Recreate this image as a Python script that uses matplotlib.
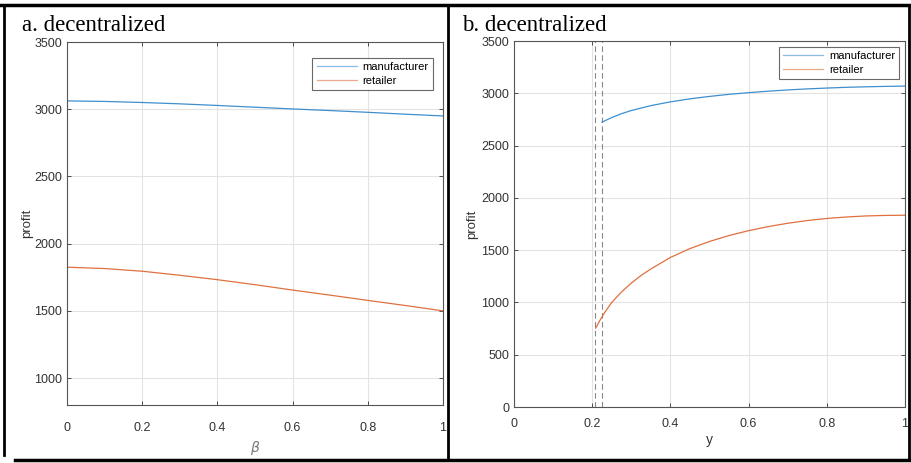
import matplotlib
matplotlib.use("Agg")
import matplotlib.pyplot as plt
from matplotlib.lines import Line2D

# panel a: profit vs beta
beta = [0.0, 0.1, 0.2, 0.3, 0.4, 0.5, 0.6, 0.7, 0.8, 0.9, 1.0]
manu_a = [3062, 3058, 3050, 3040, 3028, 3015, 3002, 2990, 2977, 2963, 2950]
ret_a = [1825, 1815, 1795, 1765, 1732, 1695, 1655, 1617, 1578, 1540, 1500]

# panel b: profit vs y
y_manu = [0.225, 0.25, 0.275, 0.3, 0.35, 0.4, 0.45, 0.5, 0.55, 0.6, 0.65, 0.7,
          0.75, 0.8, 0.85, 0.9, 0.95, 1.0]
manu_b = [2724, 2768, 2805, 2835, 2882, 2918, 2947, 2970, 2990, 3006, 3020, 3032,
          3042, 3050, 3057, 3062, 3066, 3069]
y_ret = [0.209, 0.22, 0.23, 0.25, 0.275, 0.3, 0.325, 0.35, 0.4, 0.45, 0.5, 0.55,
         0.6, 0.65, 0.7, 0.75, 0.8, 0.85, 0.9, 0.95, 1.0]
ret_b = [754, 830, 893, 1000, 1100, 1185, 1258, 1320, 1430, 1515, 1583, 1640,
         1686, 1725, 1757, 1783, 1803, 1817, 1827, 1832, 1834]
dash_x = [0.208, 0.225]

blue = "#3d8fd0"
orange = "#e0703f"
tickfont = ["Liberation Sans", "DejaVu Sans"]
serif = ["Liberation Serif", "DejaVu Serif"]

fig = plt.figure(figsize=(9.11, 4.63), dpi=100)
W, H = 911.0, 463.0


def box(l, t, r, b):
    return [l / W, 1 - b / H, (r - l) / W, (b - t) / H]


def style(ax):
    for s in ax.spines.values():
        s.set_color("#555555")
        s.set_linewidth(0.8)
    ax.grid(True, color="#e3e3e3", linewidth=0.8)
    ax.set_axisbelow(True)
    ax.tick_params(direction="in", length=3, width=0.6, color="#333333",
                   top=True, right=True, labelsize=9, labelcolor="#333333")
    for lab in ax.get_xticklabels() + ax.get_yticklabels():
        lab.set_family(tickfont)
    ax.set_xlim(0, 1)
    ax.set_xticks([0, 0.2, 0.4, 0.6, 0.8, 1.0])
    ax.set_xticklabels(["0", "0.2", "0.4", "0.6", "0.8", "1"])
    ax.tick_params(axis="x", pad=12)


def legend(ax, anchor):
    leg = ax.legend(loc="upper right", bbox_to_anchor=anchor,
                    frameon=True, fancybox=False, edgecolor="#444444",
                    handlelength=3.6, borderpad=0.4, labelspacing=0.35,
                    handletextpad=0.5, prop={"family": tickfont, "size": 8})
    leg.get_frame().set_linewidth(0.8)
    for h in leg.legend_handles:
        h.set_alpha(0.6)


ax1 = fig.add_axes(box(67, 42, 443, 405))
ax1.plot(beta, manu_a, color=blue, lw=0.9, label="manufacturer")
ax1.plot(beta, ret_a, color=orange, lw=0.9, label="retailer")
ax1.set_ylim(800, 3500)
ax1.set_yticks([1000, 1500, 2000, 2500, 3000, 3500])
style(ax1)
ax1.set_ylabel("profit", fontsize=9.5, color="#333333", family=tickfont, labelpad=1)
ax1.set_xlabel(r"$\beta$", fontsize=10, color="#777777", labelpad=4)
legend(ax1, (0.988, 0.972))

ax2 = fig.add_axes(box(514, 41, 905, 407))
for xv in dash_x:
    ax2.axvline(xv, color="#888888", lw=0.8, ls=(0, (5, 3)))
ax2.plot(y_manu, manu_b, color=blue, lw=0.9, label="manufacturer")
ax2.plot(y_ret, ret_b, color=orange, lw=0.9, label="retailer")
ax2.set_ylim(0, 3500)
ax2.set_yticks(list(range(0, 3501, 500)))
style(ax2)
ax2.tick_params(axis="x", pad=8)
ax2.set_ylabel("profit", fontsize=9.5, color="#333333", family=tickfont, labelpad=2)
ax2.set_xlabel("y", fontsize=10, color="#333333", family=tickfont, labelpad=2)
legend(ax2, (1.0, 1.0))

fig.text(22 / W, 1 - 31 / H, "a. decentralized", family=serif, fontsize=16.5)
fig.text(462 / W, 1 - 31 / H, "b. decentralized", family=serif, fontsize=16.5)

# table border around the two panels
def hline(y, x0, x1, lw):
    fig.add_artist(Line2D([x0 / W, x1 / W], [1 - y / H, 1 - y / H], color="black", lw=lw))


def vline(x, y0, y1, lw):
    fig.add_artist(Line2D([x / W, x / W], [1 - y0 / H, 1 - y1 / H], color="black", lw=lw))


hline(5, 0, 911, 2.5)
hline(460, 15, 911, 2.5)
vline(4, 5, 455, 2.0)
vline(448, 5, 460, 2.0)
vline(909, 5, 460, 2.0)

fig.savefig("out.png", dpi=100)
